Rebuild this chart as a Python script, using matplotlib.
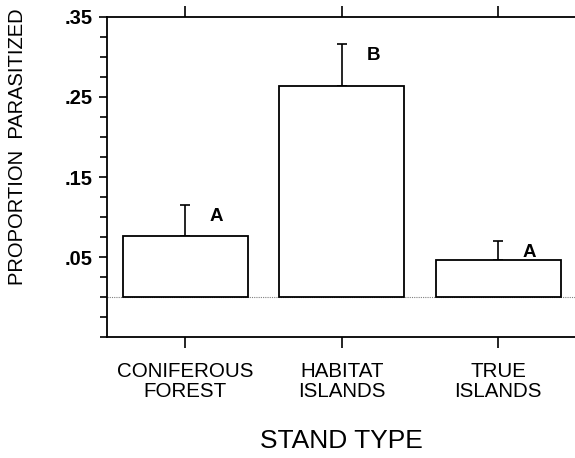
import matplotlib.pyplot as plt
import numpy as np
from matplotlib.ticker import FixedLocator, MultipleLocator, FuncFormatter

plt.rcParams['font.family'] = ['Liberation Sans', 'DejaVu Sans']

categories = ["CONIFEROUS\nFOREST", "HABITAT\nISLANDS", "TRUE\nISLANDS"]
proportion = [0.076, 0.264, 0.046]
upper_error = [0.039, 0.052, 0.024]
groups = ["A", "B", "A"]
labelled_ticks = [0.05, 0.15, 0.25, 0.35]

fig = plt.figure(figsize=(5.75, 4.58), dpi=100)
ax = fig.add_axes([0.186, 0.264, 0.814, 0.699])

x = np.arange(len(categories))
ax.bar(x, proportion, width=0.8, color="white", edgecolor="black", linewidth=1.3, zorder=3)
ax.errorbar(x, proportion, yerr=[np.zeros(len(x)), upper_error], fmt="none",
            ecolor="black", elinewidth=1.2, capsize=3.5, capthick=1.2, zorder=2)
for xi, p, e, g in zip(x, proportion, upper_error, groups):
    ax.text(xi + 0.2, p + e - 0.014, g, fontsize=13.5, fontweight="bold",
            ha="center", va="center")

ax.axhline(0, color="gray", linestyle=(0, (1, 1)), linewidth=0.8, zorder=1)

ax.set_xlim(-0.5, 2.49)
ax.set_ylim(-0.05, 0.35)

ax.yaxis.set_major_locator(FixedLocator(labelled_ticks))
ax.yaxis.set_minor_locator(MultipleLocator(0.025))
ax.yaxis.set_major_formatter(FuncFormatter(lambda v, p: f"{v:.2f}".lstrip("0")))
for lab in ax.get_yticklabels():
    lab.set_fontweight("bold")
ax.tick_params(axis="y", which="major", length=6, width=1.2, labelsize=14.5, pad=4)
ax.tick_params(axis="y", which="minor", length=5, width=1.2)

ax.set_xticks(x)
ax.set_xticklabels(categories, fontsize=14.8, linespacing=1.05)
ax.tick_params(axis="x", which="major", length=8, width=1.2, top=True, pad=10)

ax.spines["right"].set_visible(False)
for s in ["left", "top", "bottom"]:
    ax.spines[s].set_linewidth(1.3)

fig.text(0.03, 0.68, "PROPORTION  PARASITIZED", rotation=90, fontsize=14.5,
         ha="center", va="center")
ax.set_xlabel("STAND TYPE", fontsize=19, labelpad=20)

fig.savefig("out.png", dpi=100)
